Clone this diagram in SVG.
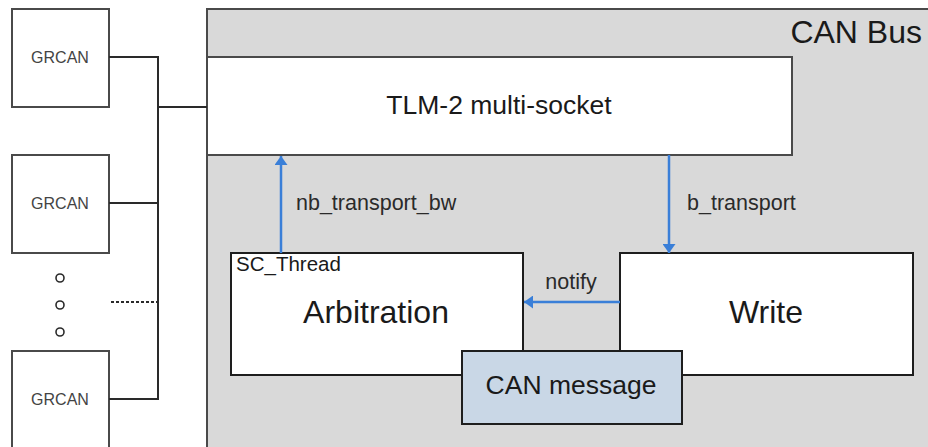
<svg xmlns="http://www.w3.org/2000/svg" width="928" height="447" viewBox="0 0 928 447">
  <defs>
    <style>
      text { font-family: "Liberation Sans", Arial, sans-serif; fill: #1a1a1a; }
      .box { fill: #ffffff; stroke: #4a4a4a; stroke-width: 2; }
      .blk { fill: #ffffff; stroke: #1e1e1e; stroke-width: 2; }
      .msg { fill: #c9d7e6; stroke: #1e1e1e; stroke-width: 2; }
      .bus { fill: #d9d9d9; stroke: #4a4a4a; stroke-width: 2; }
      .wire { fill: none; stroke: #2a2a2a; stroke-width: 2; }
      .flow { fill: none; stroke: #3a7fd8; stroke-width: 2.5; }
      .small { font-size: 16px; fill: #444444; }
      .lbl { font-size: 21.5px; fill: #2a2a2a; }
      .big { font-size: 32px; }
    </style>
    <!-- short, wide arrowhead -->
    <marker id="arrow" viewBox="0 0 9 13" refX="9" refY="6.5" markerWidth="9" markerHeight="13" orient="auto" markerUnits="userSpaceOnUse">
      <path d="M0,0 L9,6.5 L0,13 z" fill="#3a7fd8"/>
    </marker>
  </defs>

  <!-- CAN bus enclosure -->
  <g id="can-bus">
    <rect class="bus" x="207" y="9" width="730" height="450"/>
    <text class="big" x="922" y="43" text-anchor="end">CAN Bus</text>
  </g>

  <!-- GRCAN controllers -->
  <g id="grcan-1">
    <rect class="box" x="12" y="9" width="97" height="98"/>
    <text class="small" x="60" y="63" text-anchor="middle">GRCAN</text>
  </g>
  <g id="grcan-2">
    <rect class="box" x="12" y="155" width="97" height="98"/>
    <text class="small" x="60" y="209" text-anchor="middle">GRCAN</text>
  </g>
  <g id="ellipsis">
    <circle cx="60" cy="278" r="4" fill="none" stroke="#2a2a2a" stroke-width="1.6"/>
    <circle cx="60" cy="305" r="4" fill="none" stroke="#2a2a2a" stroke-width="1.6"/>
    <circle cx="60" cy="332" r="4" fill="none" stroke="#2a2a2a" stroke-width="1.6"/>
  </g>
  <g id="grcan-3">
    <rect class="box" x="12" y="351" width="97" height="110"/>
    <text class="small" x="60" y="405" text-anchor="middle">GRCAN</text>
  </g>

  <!-- Bus internals -->
  <g id="tlm-socket">
    <rect class="box" x="207" y="57" width="585" height="98"/>
    <text x="499" y="114" text-anchor="middle" font-size="26.5">TLM-2 multi-socket</text>
  </g>
  <g id="arbitration">
    <rect class="blk" x="231" y="253" width="292" height="122"/>
    <text x="236" y="271" font-size="20.5" fill="#2a2a2a">SC_Thread</text>
    <text class="big" x="376" y="323" text-anchor="middle">Arbitration</text>
  </g>
  <g id="write">
    <rect class="blk" x="620" y="253" width="293" height="122"/>
    <text class="big" x="766" y="323" text-anchor="middle">Write</text>
  </g>
  <g id="can-message">
    <rect class="msg" x="462" y="351" width="220" height="73"/>
    <text x="571" y="394" text-anchor="middle" font-size="26.5">CAN message</text>
  </g>

  <!-- Connectors -->
  <g id="connectors">
    <polyline class="wire" points="109,57 158,57 158,399 109,399"/>
    <line class="wire" x1="109" y1="203" x2="158" y2="203"/>
    <line class="wire" x1="158" y1="107" x2="207" y2="107"/>
    <line x1="111" y1="302" x2="158" y2="302" stroke="#2a2a2a" stroke-width="2" stroke-dasharray="3,2"/>

    <line class="flow" x1="281" y1="253" x2="281" y2="156" marker-end="url(#arrow)"/>
    <text class="lbl" x="296" y="210">nb_transport_bw</text>

    <line class="flow" x1="669" y1="155" x2="669" y2="253" marker-end="url(#arrow)"/>
    <text class="lbl" x="687" y="210">b_transport</text>

    <line class="flow" x1="620" y1="302" x2="524" y2="302" marker-end="url(#arrow)"/>
    <text class="lbl" x="571" y="289" text-anchor="middle">notify</text>
  </g>
</svg>
